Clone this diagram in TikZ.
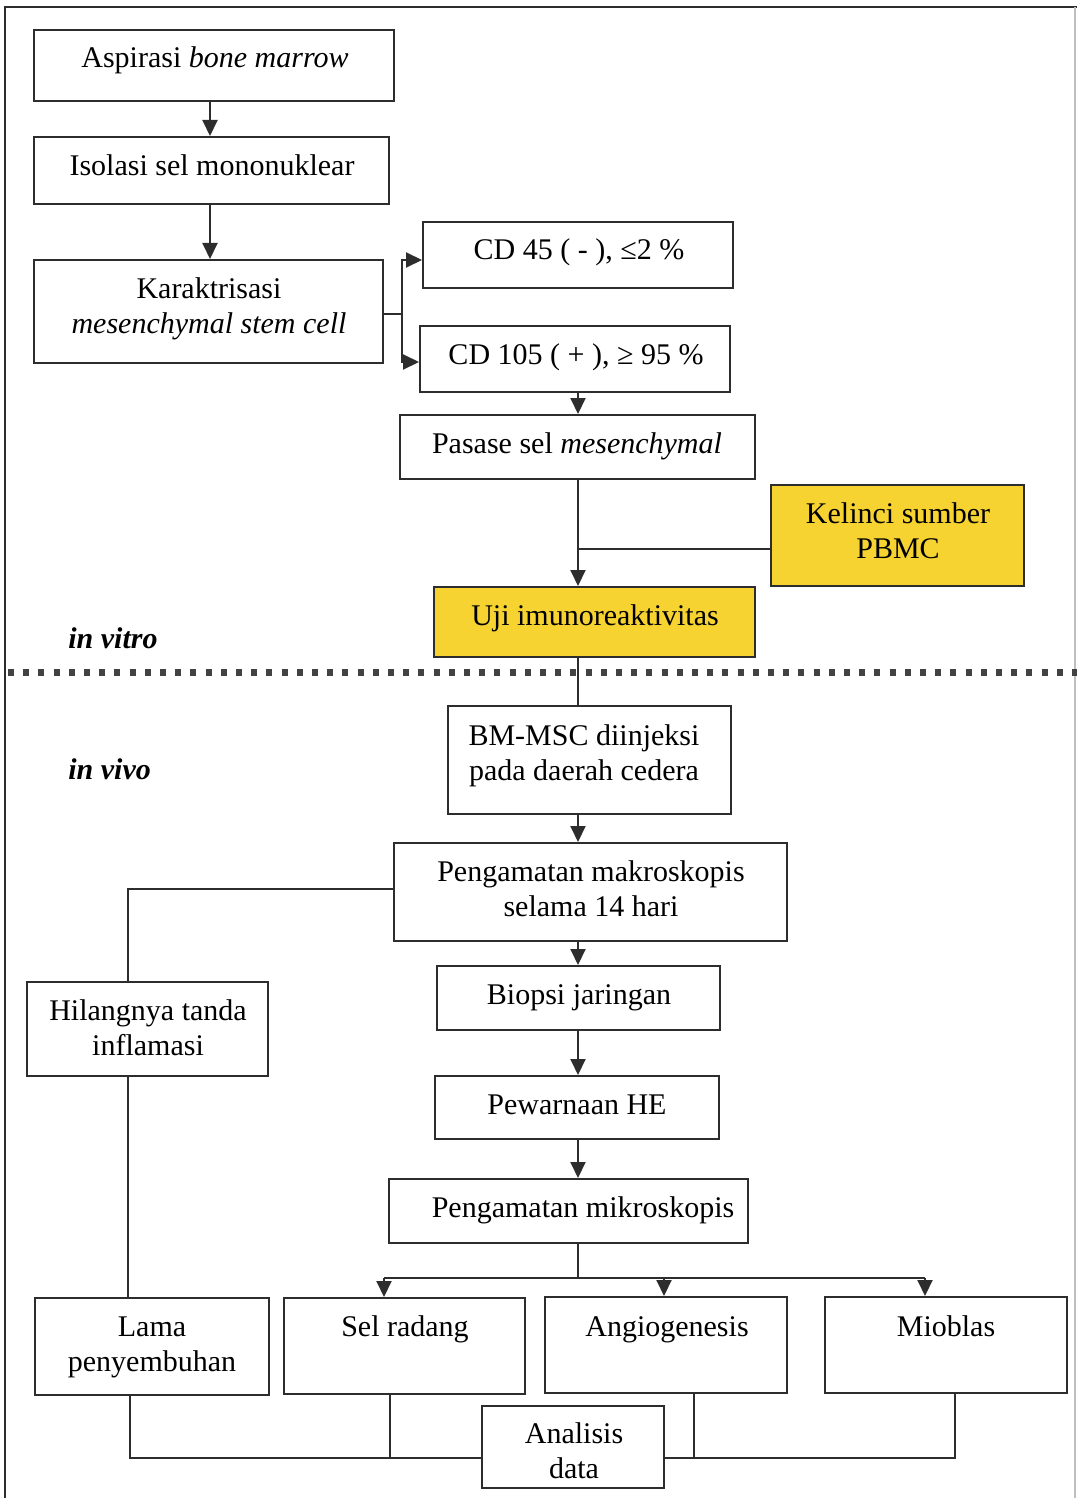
\documentclass[tikz,border=0pt]{standalone}
\usepackage{fontspec}
\setmainfont{Liberation Serif}
\usetikzlibrary{arrows.meta,fit}
\definecolor{lineC}{RGB}{45,45,45}
\definecolor{boxY}{RGB}{246,211,48}
\tikzset{
  bx/.style={draw=lineC, line width=1pt, inner sep=0pt},
  ybx/.style={bx, fill=boxY},
  txt/.style={anchor=base, align=center, inner sep=0pt, font=\fontsize{15}{17.5}\selectfont},
  lbl/.style={anchor=base west, inner sep=0pt, font=\fontsize{15}{17.5}\selectfont\bfseries\itshape},
  conn/.style={draw=lineC, line width=1pt},
  arr/.style={conn, -{Triangle[length=8pt,width=7.5pt]}},
  dotline/.style={draw=lineC!90, line width=3.5pt, dash pattern=on 3pt off 4.6pt}
}
\begin{document}
\begin{tikzpicture}[x=0.5pt,y=-0.5pt]
\useasboundingbox (0,0) rectangle (1077,1498);
% frame
\draw[conn] (5,1498) -- (5,7) -- (1077,7);
\draw[draw=black!25, line width=0.8pt] (1075,7) -- (1075,1498);
% dotted separator
\draw[dotline] (8,672) -- (1077,672);

% boxes
\node[bx, fit={(34,30) (394,101)}] (asp) {};
\node[bx, fit={(34,137) (389,204)}] (iso) {};
\node[bx, fit={(34,260) (383,363)}] (kar) {};
\node[bx, fit={(423,222) (733,288)}] (cd45) {};
\node[bx, fit={(420,326) (730,392)}] (cd105) {};
\node[bx, fit={(400,415) (755,479)}] (pas) {};
\node[ybx, fit={(771,485) (1024,586)}] (kel) {};
\node[ybx, fit={(434,587) (755,657)}] (uji) {};
\node[bx, fit={(448,706) (731,814)}] (bm) {};
\node[bx, fit={(394,843) (787,941)}] (mak) {};
\node[bx, fit={(437,966) (720,1030)}] (bio) {};
\node[bx, fit={(435,1076) (719,1139)}] (pew) {};
\node[bx, fit={(389,1179) (748,1243)}] (mik) {};
\node[bx, fit={(27,982) (268,1076)}] (hil) {};
\node[bx, fit={(35,1298) (269,1395)}] (lama) {};
\node[bx, fit={(284,1298) (525,1394)}] (sel) {};
\node[bx, fit={(545,1297) (787,1393)}] (ang) {};
\node[bx, fit={(825,1297) (1067,1393)}] (mio) {};
\node[bx, fit={(482,1406) (664,1488)}, fill=white] (ana) {};

% texts (base anchor = last line's baseline)
\node[txt] (tasp) at (215,68) {Aspirasi \textit{bone marrow}};
\node[txt] (tiso) at (212,176) {Isolasi sel mononuklear};
\node[txt] (tkar) at (209,333) {Karaktrisasi\\\textit{mesenchymal stem cell}};
\node[txt] (tcd45) at (579,260) {CD 45 ( - ), ≤2 \%};
\node[txt] (tcd105) at (576,364) {CD 105 ( + ), ≥ 95 \%};
\node[txt] (tpas) at (577,453) {Pasase sel \textit{mesenchymal}};
\node[txt] (tkel) at (898,558) {Kelinci sumber\\PBMC};
\node[txt] (tuji) at (595,625) {Uji imunoreaktivitas};
\node[lbl] (vitro) at (68,648) {in vitro};
\node[lbl] (vivo) at (68,779) {in vivo};
\node[txt] (tbm) at (584,780) {BM-MSC diinjeksi\\pada daerah cedera};
\node[txt] (tmak) at (591,916) {Pengamatan makroskopis\\selama 14 hari};
\node[txt] (tbio) at (579,1004) {Biopsi jaringan};
\node[txt] (tpew) at (577,1114) {Pewarnaan HE};
\node[txt] (tmik) at (583,1217) {Pengamatan mikroskopis};
\node[txt] (thil) at (148,1055) {Hilangnya tanda\\inflamasi};
\node[txt] (tlama) at (152,1371) {Lama\\penyembuhan};
\node[txt] (tsel) at (405,1336) {Sel radang};
\node[txt] (tang) at (667,1336) {Angiogenesis};
\node[txt] (tmio) at (946,1336) {Mioblas};
\node[txt] (tana) at (574,1478) {Analisis\\data};

% helper coordinates
\coordinate (c1) at (210,0);
\coordinate (mc) at (578,0);
\coordinate (br) at (402,314);
\coordinate (kj) at (578,549);
\coordinate (lx) at (128,0);
\coordinate (sp) at (578,1278);
\coordinate (ax1) at (384,1278);
\coordinate (ax2) at (664,1278);
\coordinate (ax3) at (925,1278);
\coordinate (b1) at (130,1458);
\coordinate (b2) at (390,1458);
\coordinate (b3) at (694,1458);
\coordinate (b4) at (955,1458);

% connectors
\draw[arr] (asp.south -| c1) -- (iso.north -| c1);
\draw[arr] (iso.south -| c1) -- (kar.north -| c1);
\draw[conn] (kar.east |- br) -- (br);
\draw[arr] (br) |- ([yshift=-2.5pt]cd45.west);
\draw[arr] (br) |- ([yshift=-1.5pt]cd105.west);
\draw[arr] (cd105.south -| mc) -- (pas.north -| mc);
\draw[arr] (pas.south -| mc) -- (uji.north -| mc);
\draw[conn] (kel.west |- kj) -- (kj);
\draw[conn] (uji.south -| mc) -- (bm.north -| mc);
\draw[arr] (bm.south -| mc) -- (mak.north -| mc);
\draw[conn] (mak.west |- 0,889) -| (hil.north -| lx);
\draw[conn] (hil.south -| lx) -- (lama.north -| lx);
\draw[arr] (mak.south -| mc) -- (bio.north -| mc);
\draw[arr] (bio.south -| mc) -- (pew.north -| mc);
\draw[arr] (pew.south -| mc) -- (mik.north -| mc);
\draw[conn] (mik.south -| sp) -- (sp);
\draw[conn] (ax1) -- (ax3);
\draw[arr] (ax1) -- (sel.north -| ax1);
\draw[arr] (ax2) -- (ang.north -| ax2);
\draw[arr] (ax3) -- (mio.north -| ax3);
\draw[conn] (lama.south -| b1) -- (b1) -- (ana.west |- b1);
\draw[conn] (sel.south -| b2) -- (b2);
\draw[conn] (ang.south -| b3) -- (b3);
\draw[conn] (mio.south -| b4) -- (b4) -- (ana.east |- b4);
\end{tikzpicture}
\end{document}
